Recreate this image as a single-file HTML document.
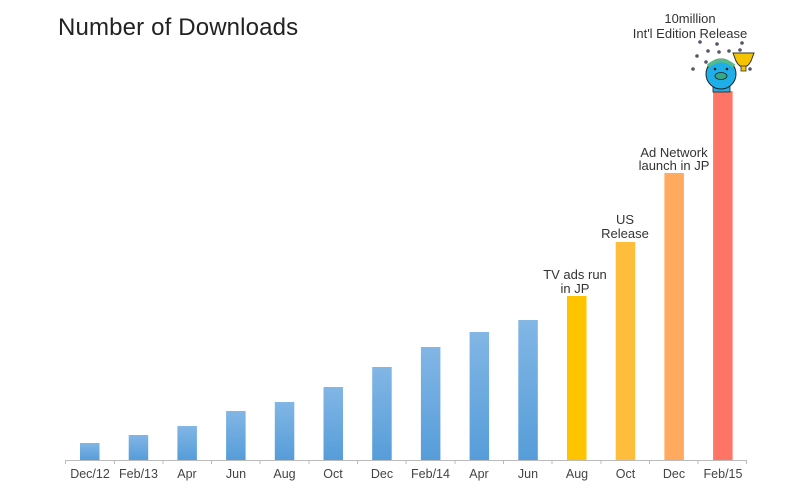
<!DOCTYPE html>
<html><head><meta charset="utf-8"><style>
body{margin:0;background:#fff;width:800px;height:490px;overflow:hidden}
svg text{font-family:"Liberation Sans",sans-serif}
</style></head><body>
<svg width="800" height="490" viewBox="0 0 800 490">
<defs><linearGradient id="b" x1="0" y1="0" x2="0" y2="1"><stop offset="0" stop-color="#82b6e5"/><stop offset="1" stop-color="#569dd9"/></linearGradient></defs>
<text x="58" y="35" font-size="24" fill="#222" letter-spacing="0.15">Number of Downloads</text>
<g fill="url(#b)">
<rect x="80" y="443" width="19.5" height="17"/>
<rect x="128.7" y="435" width="19.5" height="25"/>
<rect x="177.4" y="426" width="19.5" height="34"/>
<rect x="226.1" y="411" width="19.5" height="49"/>
<rect x="274.8" y="402" width="19.5" height="58"/>
<rect x="323.5" y="387" width="19.5" height="73"/>
<rect x="372.2" y="367" width="19.5" height="93"/>
<rect x="420.9" y="347" width="19.5" height="113"/>
<rect x="469.6" y="332" width="19.5" height="128"/>
<rect x="518.3" y="320" width="19.5" height="140"/>
</g>
<rect x="567" y="296" width="19.5" height="164" fill="#ffc400"/>
<rect x="615.7" y="242" width="19.5" height="218" fill="#ffbd3c"/>
<rect x="664.4" y="173" width="19.5" height="287" fill="#ffaa5e"/>
<rect x="713.1" y="91" width="19.5" height="369" fill="#ff7565"/>
<g stroke="#bbb" stroke-width="1">
<line x1="65" y1="460.5" x2="747" y2="460.5"/>
<line x1="65.5" y1="460" x2="65.5" y2="464"/><line x1="114.5" y1="460" x2="114.5" y2="464"/><line x1="163" y1="460" x2="163" y2="464"/><line x1="211.5" y1="460" x2="211.5" y2="464"/><line x1="260" y1="460" x2="260" y2="464"/><line x1="309" y1="460" x2="309" y2="464"/><line x1="357.5" y1="460" x2="357.5" y2="464"/><line x1="406" y1="460" x2="406" y2="464"/><line x1="455" y1="460" x2="455" y2="464"/><line x1="503.5" y1="460" x2="503.5" y2="464"/><line x1="552" y1="460" x2="552" y2="464"/><line x1="601" y1="460" x2="601" y2="464"/><line x1="649.5" y1="460" x2="649.5" y2="464"/><line x1="698" y1="460" x2="698" y2="464"/><line x1="746.5" y1="460" x2="746.5" y2="464"/>
</g>
<g font-size="12.5" fill="#444" text-anchor="middle">
<text x="90" y="478">Dec/12</text><text x="138.5" y="478">Feb/13</text><text x="187" y="478">Apr</text><text x="236" y="478">Jun</text><text x="284.5" y="478">Aug</text><text x="333" y="478">Oct</text><text x="382" y="478">Dec</text><text x="430.5" y="478">Feb/14</text><text x="479" y="478">Apr</text><text x="528" y="478">Jun</text><text x="577" y="478">Aug</text><text x="625.5" y="478">Oct</text><text x="674" y="478">Dec</text><text x="723" y="478">Feb/15</text>
</g>
<g font-size="13" fill="#333" text-anchor="middle">
<text x="575" y="279">TV ads run</text><text x="575" y="293">in JP</text>
<text x="625" y="224">US</text><text x="625" y="238">Release</text>
<text x="674" y="157">Ad Network</text><text x="674" y="170">launch in JP</text>
<text x="690" y="23">10million</text><text x="690" y="38">Int'l Edition Release</text>
</g>
<g>
<g fill="#556">
<circle cx="700" cy="42" r="1.8"/><circle cx="717" cy="44" r="1.8"/><circle cx="742" cy="43" r="1.8"/><circle cx="708" cy="51" r="1.8"/><circle cx="719" cy="52" r="1.8"/><circle cx="729" cy="51" r="1.8"/><circle cx="697" cy="56" r="1.8"/><circle cx="693" cy="69" r="1.8"/><circle cx="750" cy="69" r="1.8"/><circle cx="740" cy="50" r="1.8"/><circle cx="706" cy="62" r="1.8"/>
</g>
<path d="M733 53 h21 l-3 8 q-3 6 -7.5 6 q-4.5 0 -7.5 -6z" fill="#f5c400" stroke="#333" stroke-width="1"/>
<rect x="741" y="66" width="5" height="5" fill="#f5c400" stroke="#333" stroke-width="0.8"/>
<rect x="713" y="84" width="17" height="8" fill="#1eaee8" stroke="#222" stroke-width="0.8"/>
<circle cx="721" cy="74" r="15" fill="#1eaee8" stroke="#222" stroke-width="1"/>
<path d="M708 66 q13 -11 26 0" fill="none" stroke="#5b8" stroke-width="3.5"/>
<ellipse cx="721" cy="76" rx="6" ry="3.5" fill="#3a8" stroke="#222" stroke-width="0.8"/>
<circle cx="715" cy="69" r="1.3" fill="#222"/><circle cx="727" cy="69" r="1.3" fill="#222"/>
</g>
</svg>
</body></html>
